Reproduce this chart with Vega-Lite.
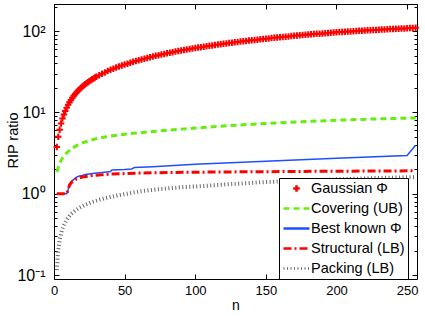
{
"$schema":"https://vega.github.io/schema/vega-lite/v6.json",
"width":363,"height":275,"autosize":"none",
"padding":{"left":54,"top":4,"right":8,"bottom":37},
"background":"white",
"config":{"view":{"stroke":"black","strokeWidth":1},"font":"Liberation Sans",
 "axis":{"domain":false,"grid":false,"tickColor":"black","labelColor":"black","titleColor":"black","labelFont":"Liberation Sans","titleFont":"Liberation Sans","titleFontWeight":"normal","tickWidth":1,"labelFlush":false}},
"data":{"values":[
{"s":"Gaussian Φ","n":2,"v":3.75},{"s":"Gaussian Φ","n":3,"v":5.0},{"s":"Gaussian Φ","n":4,"v":6.1},{"s":"Gaussian Φ","n":5,"v":7.3},{"s":"Gaussian Φ","n":6,"v":8.4},{"s":"Gaussian Φ","n":7,"v":9.4},{"s":"Gaussian Φ","n":8,"v":10.4},{"s":"Gaussian Φ","n":9,"v":11.4},{"s":"Gaussian Φ","n":10,"v":12.4},{"s":"Gaussian Φ","n":11,"v":13.3},{"s":"Gaussian Φ","n":12,"v":14.2},{"s":"Gaussian Φ","n":13,"v":15.1},{"s":"Gaussian Φ","n":14,"v":16.0},{"s":"Gaussian Φ","n":15,"v":16.8},{"s":"Gaussian Φ","n":16,"v":17.6},{"s":"Gaussian Φ","n":17,"v":18.4},{"s":"Gaussian Φ","n":18,"v":19.2},{"s":"Gaussian Φ","n":19,"v":19.95},{"s":"Gaussian Φ","n":20,"v":20.7},{"s":"Gaussian Φ","n":21,"v":21.4},{"s":"Gaussian Φ","n":22,"v":22.1},{"s":"Gaussian Φ","n":23,"v":22.8},{"s":"Gaussian Φ","n":24,"v":23.5},{"s":"Gaussian Φ","n":25,"v":24.2},{"s":"Gaussian Φ","n":26,"v":24.8},{"s":"Gaussian Φ","n":27,"v":25.5},{"s":"Gaussian Φ","n":28,"v":26.1},{"s":"Gaussian Φ","n":29,"v":26.8},{"s":"Gaussian Φ","n":30,"v":27.4},
{"s":"Gaussian Φ","n":32,"v":28.6},{"s":"Gaussian Φ","n":34,"v":29.8},{"s":"Gaussian Φ","n":36,"v":31.0},{"s":"Gaussian Φ","n":38,"v":32.2},{"s":"Gaussian Φ","n":40,"v":33.3},{"s":"Gaussian Φ","n":42,"v":34.4},{"s":"Gaussian Φ","n":44,"v":35.5},{"s":"Gaussian Φ","n":46,"v":36.6},{"s":"Gaussian Φ","n":48,"v":37.7},{"s":"Gaussian Φ","n":50,"v":38.7},{"s":"Gaussian Φ","n":52,"v":39.7},{"s":"Gaussian Φ","n":54,"v":40.8},{"s":"Gaussian Φ","n":56,"v":41.8},{"s":"Gaussian Φ","n":58,"v":42.8},{"s":"Gaussian Φ","n":60,"v":43.8},{"s":"Gaussian Φ","n":62,"v":44.8},{"s":"Gaussian Φ","n":64,"v":45.7},{"s":"Gaussian Φ","n":66,"v":46.7},{"s":"Gaussian Φ","n":68,"v":47.7},{"s":"Gaussian Φ","n":70,"v":48.6},{"s":"Gaussian Φ","n":72,"v":49.5},{"s":"Gaussian Φ","n":74,"v":50.5},{"s":"Gaussian Φ","n":76,"v":51.4},{"s":"Gaussian Φ","n":78,"v":52.3},{"s":"Gaussian Φ","n":80,"v":53.2},{"s":"Gaussian Φ","n":82,"v":54.1},{"s":"Gaussian Φ","n":84,"v":55},{"s":"Gaussian Φ","n":86,"v":55.9},{"s":"Gaussian Φ","n":88,"v":56.7},{"s":"Gaussian Φ","n":90,"v":57.6},{"s":"Gaussian Φ","n":92,"v":58.4},{"s":"Gaussian Φ","n":94,"v":59.3},{"s":"Gaussian Φ","n":96,"v":60.1},{"s":"Gaussian Φ","n":98,"v":61},{"s":"Gaussian Φ","n":100,"v":61.8},{"s":"Gaussian Φ","n":102,"v":62.6},{"s":"Gaussian Φ","n":104,"v":63.4},{"s":"Gaussian Φ","n":106,"v":64.2},{"s":"Gaussian Φ","n":108,"v":65},{"s":"Gaussian Φ","n":110,"v":65.8},{"s":"Gaussian Φ","n":112,"v":66.6},{"s":"Gaussian Φ","n":114,"v":67.4},{"s":"Gaussian Φ","n":116,"v":68.2},{"s":"Gaussian Φ","n":118,"v":69},{"s":"Gaussian Φ","n":120,"v":69.8},{"s":"Gaussian Φ","n":122,"v":70.5},{"s":"Gaussian Φ","n":124,"v":71.2},{"s":"Gaussian Φ","n":126,"v":71.9},{"s":"Gaussian Φ","n":128,"v":72.7},{"s":"Gaussian Φ","n":130,"v":73.4},{"s":"Gaussian Φ","n":132,"v":74.1},{"s":"Gaussian Φ","n":134,"v":74.8},{"s":"Gaussian Φ","n":136,"v":75.6},{"s":"Gaussian Φ","n":138,"v":76.3},{"s":"Gaussian Φ","n":140,"v":77},{"s":"Gaussian Φ","n":142,"v":77.7},{"s":"Gaussian Φ","n":144,"v":78.4},{"s":"Gaussian Φ","n":146,"v":79.1},{"s":"Gaussian Φ","n":148,"v":79.8},{"s":"Gaussian Φ","n":150,"v":80.5},{"s":"Gaussian Φ","n":152,"v":81.2},{"s":"Gaussian Φ","n":154,"v":81.9},{"s":"Gaussian Φ","n":156,"v":82.6},{"s":"Gaussian Φ","n":158,"v":83.3},{"s":"Gaussian Φ","n":160,"v":84},{"s":"Gaussian Φ","n":162,"v":84.6},{"s":"Gaussian Φ","n":164,"v":85.3},{"s":"Gaussian Φ","n":166,"v":85.9},{"s":"Gaussian Φ","n":168,"v":86.6},{"s":"Gaussian Φ","n":170,"v":87.2},{"s":"Gaussian Φ","n":172,"v":87.9},{"s":"Gaussian Φ","n":174,"v":88.5},{"s":"Gaussian Φ","n":176,"v":89.2},{"s":"Gaussian Φ","n":178,"v":89.8},{"s":"Gaussian Φ","n":180,"v":90.5},{"s":"Gaussian Φ","n":182,"v":91.1},{"s":"Gaussian Φ","n":184,"v":91.7},{"s":"Gaussian Φ","n":186,"v":92.3},{"s":"Gaussian Φ","n":188,"v":92.9},{"s":"Gaussian Φ","n":190,"v":93.5},{"s":"Gaussian Φ","n":192,"v":94.1},{"s":"Gaussian Φ","n":194,"v":94.7},{"s":"Gaussian Φ","n":196,"v":95.3},{"s":"Gaussian Φ","n":198,"v":95.9},{"s":"Gaussian Φ","n":200,"v":96.5},{"s":"Gaussian Φ","n":202,"v":97},{"s":"Gaussian Φ","n":204,"v":97.5},{"s":"Gaussian Φ","n":206,"v":98},{"s":"Gaussian Φ","n":208,"v":98.5},{"s":"Gaussian Φ","n":210,"v":99},{"s":"Gaussian Φ","n":212,"v":99.5},{"s":"Gaussian Φ","n":214,"v":100},{"s":"Gaussian Φ","n":216,"v":100.5},{"s":"Gaussian Φ","n":218,"v":101},{"s":"Gaussian Φ","n":220,"v":101.5},{"s":"Gaussian Φ","n":222,"v":102},{"s":"Gaussian Φ","n":224,"v":102.4},{"s":"Gaussian Φ","n":226,"v":102.9},{"s":"Gaussian Φ","n":228,"v":103.3},{"s":"Gaussian Φ","n":230,"v":103.8},{"s":"Gaussian Φ","n":232,"v":104.2},{"s":"Gaussian Φ","n":234,"v":104.7},{"s":"Gaussian Φ","n":236,"v":105.1},{"s":"Gaussian Φ","n":238,"v":105.6},{"s":"Gaussian Φ","n":240,"v":106},{"s":"Gaussian Φ","n":242,"v":106.4},{"s":"Gaussian Φ","n":244,"v":106.9},{"s":"Gaussian Φ","n":246,"v":107.3},{"s":"Gaussian Φ","n":248,"v":107.7},{"s":"Gaussian Φ","n":250,"v":108.2},{"s":"Gaussian Φ","n":252,"v":108.6},{"s":"Gaussian Φ","n":254,"v":109.1},{"s":"Gaussian Φ","n":256,"v":109.5},
{"s":"Covering (UB)","n":2,"v":1.85},{"s":"Covering (UB)","n":3,"v":2.1},{"s":"Covering (UB)","n":4,"v":2.35},{"s":"Covering (UB)","n":5,"v":2.55},{"s":"Covering (UB)","n":6,"v":2.75},{"s":"Covering (UB)","n":8,"v":3.05},{"s":"Covering (UB)","n":10,"v":3.3},{"s":"Covering (UB)","n":13,"v":3.65},{"s":"Covering (UB)","n":16,"v":3.9},{"s":"Covering (UB)","n":20,"v":4.2},{"s":"Covering (UB)","n":25,"v":4.5},{"s":"Covering (UB)","n":30,"v":4.75},{"s":"Covering (UB)","n":36,"v":4.98},{"s":"Covering (UB)","n":45,"v":5.25},{"s":"Covering (UB)","n":54,"v":5.47},{"s":"Covering (UB)","n":61,"v":5.62},{"s":"Covering (UB)","n":70,"v":5.82},{"s":"Covering (UB)","n":80,"v":6.02},{"s":"Covering (UB)","n":90,"v":6.22},{"s":"Covering (UB)","n":100,"v":6.4},{"s":"Covering (UB)","n":125,"v":6.88},{"s":"Covering (UB)","n":150,"v":7.3},{"s":"Covering (UB)","n":175,"v":7.66},{"s":"Covering (UB)","n":200,"v":8.0},{"s":"Covering (UB)","n":225,"v":8.27},{"s":"Covering (UB)","n":256,"v":8.55},
{"s":"Best known Φ","n":2,"v":1},{"s":"Best known Φ","n":9,"v":1},{"s":"Best known Φ","n":10,"v":1.12},{"s":"Best known Φ","n":11,"v":1.3},{"s":"Best known Φ","n":12,"v":1.38},{"s":"Best known Φ","n":14,"v":1.5},{"s":"Best known Φ","n":16,"v":1.6},{"s":"Best known Φ","n":18,"v":1.65},{"s":"Best known Φ","n":20,"v":1.68},{"s":"Best known Φ","n":22,"v":1.72},{"s":"Best known Φ","n":26,"v":1.76},{"s":"Best known Φ","n":30,"v":1.8},{"s":"Best known Φ","n":36,"v":1.84},{"s":"Best known Φ","n":40,"v":1.87},{"s":"Best known Φ","n":41,"v":1.95},{"s":"Best known Φ","n":50,"v":1.98},{"s":"Best known Φ","n":55,"v":2.01},{"s":"Best known Φ","n":57,"v":2.1},{"s":"Best known Φ","n":70,"v":2.15},{"s":"Best known Φ","n":100,"v":2.3},{"s":"Best known Φ","n":150,"v":2.5},{"s":"Best known Φ","n":200,"v":2.72},{"s":"Best known Φ","n":250,"v":2.95},{"s":"Best known Φ","n":256,"v":3.95},
{"s":"Structural (LB)","n":2,"v":1},{"s":"Structural (LB)","n":9,"v":1},{"s":"Structural (LB)","n":10,"v":1.1},{"s":"Structural (LB)","n":11,"v":1.28},{"s":"Structural (LB)","n":13,"v":1.42},{"s":"Structural (LB)","n":16,"v":1.52},{"s":"Structural (LB)","n":20,"v":1.6},{"s":"Structural (LB)","n":25,"v":1.65},{"s":"Structural (LB)","n":30,"v":1.69},{"s":"Structural (LB)","n":40,"v":1.74},{"s":"Structural (LB)","n":60,"v":1.79},{"s":"Structural (LB)","n":80,"v":1.82},{"s":"Structural (LB)","n":120,"v":1.85},{"s":"Structural (LB)","n":160,"v":1.87},{"s":"Structural (LB)","n":200,"v":1.89},{"s":"Structural (LB)","n":256,"v":1.91},
{"s":"Packing (LB)","n":2,"v":0.115},{"s":"Packing (LB)","n":3,"v":0.2},{"s":"Packing (LB)","n":4,"v":0.27},{"s":"Packing (LB)","n":5,"v":0.32},{"s":"Packing (LB)","n":6,"v":0.37},{"s":"Packing (LB)","n":7,"v":0.41},{"s":"Packing (LB)","n":9,"v":0.48},{"s":"Packing (LB)","n":12,"v":0.56},{"s":"Packing (LB)","n":15,"v":0.62},{"s":"Packing (LB)","n":18,"v":0.67},{"s":"Packing (LB)","n":22,"v":0.73},{"s":"Packing (LB)","n":27,"v":0.79},{"s":"Packing (LB)","n":32,"v":0.84},{"s":"Packing (LB)","n":37,"v":0.885},{"s":"Packing (LB)","n":45,"v":0.95},{"s":"Packing (LB)","n":52,"v":1.0},{"s":"Packing (LB)","n":61,"v":1.07},{"s":"Packing (LB)","n":75,"v":1.14},{"s":"Packing (LB)","n":90,"v":1.2},{"s":"Packing (LB)","n":108,"v":1.25},{"s":"Packing (LB)","n":125,"v":1.31},{"s":"Packing (LB)","n":146,"v":1.38},{"s":"Packing (LB)","n":175,"v":1.45},{"s":"Packing (LB)","n":200,"v":1.5},{"s":"Packing (LB)","n":230,"v":1.56},{"s":"Packing (LB)","n":256,"v":1.6}
]},
"layer":[
{"transform":[{"filter":"datum.s === 'Gaussian Φ'"}],
 "mark":{"type":"point","size":676,"strokeWidth":2,"filled":false,"opacity":1},
 "encoding":{
  "x":{"field":"n","type":"quantitative","scale":{"domain":[0,257],"nice":false,"zero":false},
   "axis":{"orient":"bottom","values":[0,50,100,150,200,250],"tickSize":-5,"labelPadding":10,"labelFontSize":13,"title":"n","titleFontSize":14,"titleX":181.5,"titleY":30,"titleBaseline":"alphabetic"}},
  "y":{"field":"v","type":"quantitative","scale":{"type":"log","domain":[0.0893,215],"nice":false},
   "axis":{"orient":"left","values":[0.1,1,10,100],"tickSize":-5,"labelPadding":14,"labelFontSize":16,"labelExpr":"datum.value < 0.5 ? '10⁻¹' : datum.value < 5 ? '10⁰' : datum.value < 50 ? '10¹' : '10²'","title":"RIP ratio","titleFontSize":14.5,"titleX":-34,"titleY":136,"titleAngle":-90,"titleBaseline":"bottom"}},
  "color":{"field":"s","type":"nominal",
   "scale":{"domain":["Gaussian Φ","Covering (UB)","Best known Φ","Structural (LB)","Packing (LB)"],"range":["#ff0000","#66ee11","#1f4fff","#ff0000","#666666"]},
   "legend":{"orient":"none","legendX":225,"legendY":174,"title":null,"padding":3,"strokeColor":"black","fillColor":"white","cornerRadius":0,
    "labelFontSize":14.5,"labelFont":"Liberation Sans","labelColor":"black","symbolSize":676,"symbolStrokeWidth":2.5,"clipHeight":15,"rowPadding":4,"labelOffset":0,
    "labelExpr":"datum.label + '  '"}},
  "strokeDash":{"field":"s","type":"nominal",
   "scale":{"domain":["Gaussian Φ","Covering (UB)","Best known Φ","Structural (LB)","Packing (LB)"],"range":[[1,0],[6,4],[1,0],[8,3,2,3],[1,2.5]]},
   "legend":{"title":null}},
  "shape":{"field":"s","type":"nominal",
   "scale":{"domain":["Gaussian Φ","Covering (UB)","Best known Φ","Structural (LB)","Packing (LB)"],"range":["M-0.25,0L0.25,0M0,-0.25L0,0.25","stroke","stroke","stroke","stroke"]},
   "legend":{"title":null}}
 }},
{"transform":[{"filter":"datum.s === 'Covering (UB)'"}],
 "mark":{"type":"line","strokeDash":[6,4],"strokeWidth":3},
 "encoding":{
  "x":{"field":"n","type":"quantitative",
   "axis":{"orient":"top","values":[0,50,100,150,200,250],"tickSize":-5,"labels":false,"title":null}},
  "y":{"field":"v","type":"quantitative",
   "axis":{"orient":"left","values":[0.2,0.3,0.4,0.5,0.6,0.7,0.8,0.9,2,3,4,5,6,7,8,9,20,30,40,50,60,70,80,90,200],"tickSize":-3,"labels":false,"title":null}},
  "color":{"field":"s","type":"nominal","legend":null}
 }},
{"transform":[{"filter":"datum.s === 'Best known Φ'"}],
 "mark":{"type":"line","strokeWidth":1.5},
 "encoding":{
  "x":{"field":"n","type":"quantitative","axis":null},
  "y":{"field":"v","type":"quantitative",
   "axis":{"orient":"right","values":[0.1,1,10,100],"tickSize":-5,"labels":false,"title":null}},
  "color":{"field":"s","type":"nominal","legend":null}
 }},
{"transform":[{"filter":"datum.s === 'Structural (LB)'"}],
 "mark":{"type":"line","strokeDash":[8,3,2,3],"strokeWidth":3},
 "encoding":{
  "x":{"field":"n","type":"quantitative","axis":null},
  "y":{"field":"v","type":"quantitative",
   "axis":{"orient":"right","values":[0.2,0.3,0.4,0.5,0.6,0.7,0.8,0.9,2,3,4,5,6,7,8,9,20,30,40,50,60,70,80,90,200],"tickSize":-3,"labels":false,"title":null}},
  "color":{"field":"s","type":"nominal","legend":null}
 }},
{"transform":[{"filter":"datum.s === 'Packing (LB)'"}],
 "mark":{"type":"line","strokeDash":[1,2.5],"strokeWidth":4},
 "encoding":{
  "x":{"field":"n","type":"quantitative","axis":null},
  "y":{"field":"v","type":"quantitative","axis":null},
  "color":{"field":"s","type":"nominal","legend":null}
 }}
],
"resolve":{"axis":{"x":"independent","y":"independent"}}
}
